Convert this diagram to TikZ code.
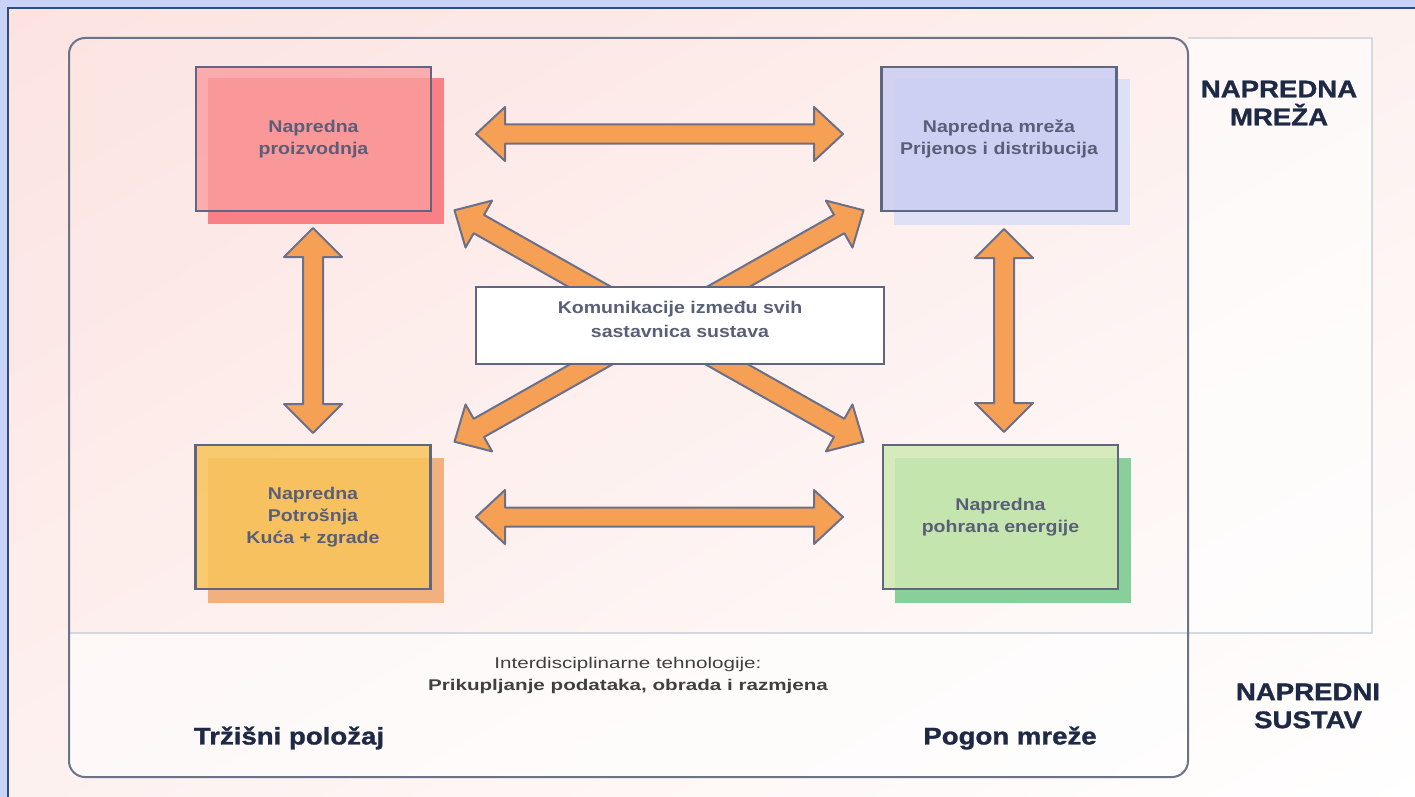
\documentclass[tikz,border=0pt]{standalone}
\usepackage{fontspec}
\usetikzlibrary{shadings}
\setmainfont{Liberation Sans}
\newfontfamily\boxfont[FakeStretch=1.15]{Liberation Sans}
\newfontfamily\labfont[FakeStretch=1.15,FakeBold=1.2]{Liberation Sans}
\newfontfamily\botfont[FakeStretch=1.33]{Liberation Sans}
\definecolor{outerblue}{HTML}{C9D2F7}
\definecolor{framenavy}{HTML}{2F4E7E}
\definecolor{pinkbg}{HTML}{FCE3E1}
\definecolor{pinkmid}{HTML}{FDF1EF}
\definecolor{frameline}{HTML}{6B7386}
\definecolor{boxline}{HTML}{5F6680}
\definecolor{boxtext}{HTML}{5A5F78}
\definecolor{labnavy}{HTML}{1E2A45}
\definecolor{arrowfill}{HTML}{F5A055}
\definecolor{arrowline}{HTML}{6B7088}
\definecolor{redfront}{HTML}{FB9D9E}
\definecolor{redshadow}{HTML}{F98084}
\definecolor{bluefront}{HTML}{C9CEF2}
\definecolor{blueshadow}{HTML}{DEE1F5}
\definecolor{yelfront}{HTML}{F8C55B}
\definecolor{yelshadow}{HTML}{F2B07E}
\definecolor{grnfront}{HTML}{CFE9B2}
\definecolor{grnshadow}{HTML}{88CF9A}
\definecolor{panelline}{HTML}{D6D8E0}
\tikzset{
  x=1pt,y=-1pt,
  frontbox/.style={draw=boxline,line width=2.5pt,minimum width=235pt,minimum height=144pt,inner sep=0pt,
     font=\boxfont\bfseries\fontsize{17}{22}\selectfont,text=boxtext,align=center},
  shadowbox/.style={minimum width=236pt,minimum height=145pt,inner sep=0pt},
  blockarrow/.style={fill=arrowfill,draw=arrowline,line width=2pt,line join=round},
  biglabel/.style={font=\labfont\bfseries\fontsize{24}{28}\selectfont,text=labnavy,align=center,inner sep=0pt},
}
% #1 cx, #2 cy, #3 angle, #4 half length, #5 head length, #6 head half width, #7 shaft half width
\newcommand\dblblockarrow[7]{%
  \draw[blockarrow,shift={(#1,#2)},rotate=#3]
    (-#4,0) -- (-#4+#5,-#6) -- (-#4+#5,-#7) -- (#4-#5,-#7) -- (#4-#5,-#6) -- (#4,0)
    -- (#4-#5,#6) -- (#4-#5,#7) -- (-#4+#5,#7) -- (-#4+#5,#6) -- cycle;}
\begin{document}
\begin{tikzpicture}
\useasboundingbox (0,0) rectangle (1415,797);
% outer background
\fill[outerblue] (0,0) rectangle (1415,797);
\shade[upper left=pinkbg,upper right=pinkmid,lower left=pinkmid,lower right=white] (8,8) rectangle (1420,800);
\draw[framenavy,line width=2.5pt] (8,800) -- (8,8) -- (1420,8);
% right panel + separator
\fill[white,opacity=0.6] (1188,38) rectangle (1372,633);
\draw[panelline,line width=1.2pt] (1188,38) -- (1372,38) -- (1372,633) -- (69,633);
\fill[white,opacity=0.6] (70,634) rectangle (1187,776);
% main rounded frame
\node[draw=frameline,line width=2pt,rounded corners=16pt,minimum width=1119pt,minimum height=739pt,inner sep=0pt] (frame) at (628.5,407.5) {};
% arrows
\dblblockarrow{659.5}{134}{0}{183.5}{29}{27}{9.5}
\dblblockarrow{659.5}{517}{0}{183.5}{29}{27}{9.5}
\dblblockarrow{313}{330.5}{90}{102.5}{29}{29}{10}
\dblblockarrow{1004}{330.5}{90}{101.5}{29}{29}{10}
\dblblockarrow{659}{326}{-29.5}{235}{28}{27}{10.5}
\dblblockarrow{659}{326}{29.5}{235}{28}{27}{10.5}
% center box
\node[draw=boxline,line width=2.5pt,fill=white,minimum width=408pt,minimum height=77pt,inner sep=0pt] (komm) at (680,325.5) {};
\node[font=\boxfont\bfseries\fontsize{17}{24}\selectfont,text=boxtext,align=center,inner sep=0pt] (kommtext) at (680,319)
  {Komunikacije između svih\\sastavnica sustava};
% boxes
\node[shadowbox,fill=redshadow] (redsh) at (326,151) {};
\node[frontbox,fill=redfront,fill opacity=0.8,text opacity=1] (prod) at (313.5,139) {Napredna\\proizvodnja};
\node[shadowbox,fill=blueshadow] (blush) at (1012,152) {};
\node[frontbox,fill=bluefront,fill opacity=0.85,text opacity=1] (grid) at (999,139) {Napredna mreža\\Prijenos i distribucija};
\node[shadowbox,fill=yelshadow] (yelsh) at (326,530) {};
\node[frontbox,fill=yelfront,fill opacity=0.85,text opacity=1] (cons) at (313,517) {Napredna\\Potrošnja\\Kuća + zgrade};
\node[shadowbox,fill=grnshadow] (grnsh) at (1012.5,530) {};
\node[frontbox,fill=grnfront,fill opacity=0.85,text opacity=1] (stor) at (1000.5,517) {Napredna\\pohrana energije};
% labels
\node[biglabel] (mreza) at (1279,103) {NAPREDNA\\MREŽA};
\node[biglabel] (sustav) at (1308,706) {NAPREDNI\\SUSTAV};
\node[font=\botfont\fontsize{15.5}{22}\selectfont,text=black!75,align=center,inner sep=0pt] (inter) at (628,675)
  {Interdisciplinarne tehnologije:\\\bfseries Prikupljanje podataka, obrada i razmjena};
\node[biglabel] (trz) at (289,738) {Tržišni položaj};
\node[biglabel] (pogon) at (1010,738) {Pogon mreže};
\end{tikzpicture}
\end{document}
